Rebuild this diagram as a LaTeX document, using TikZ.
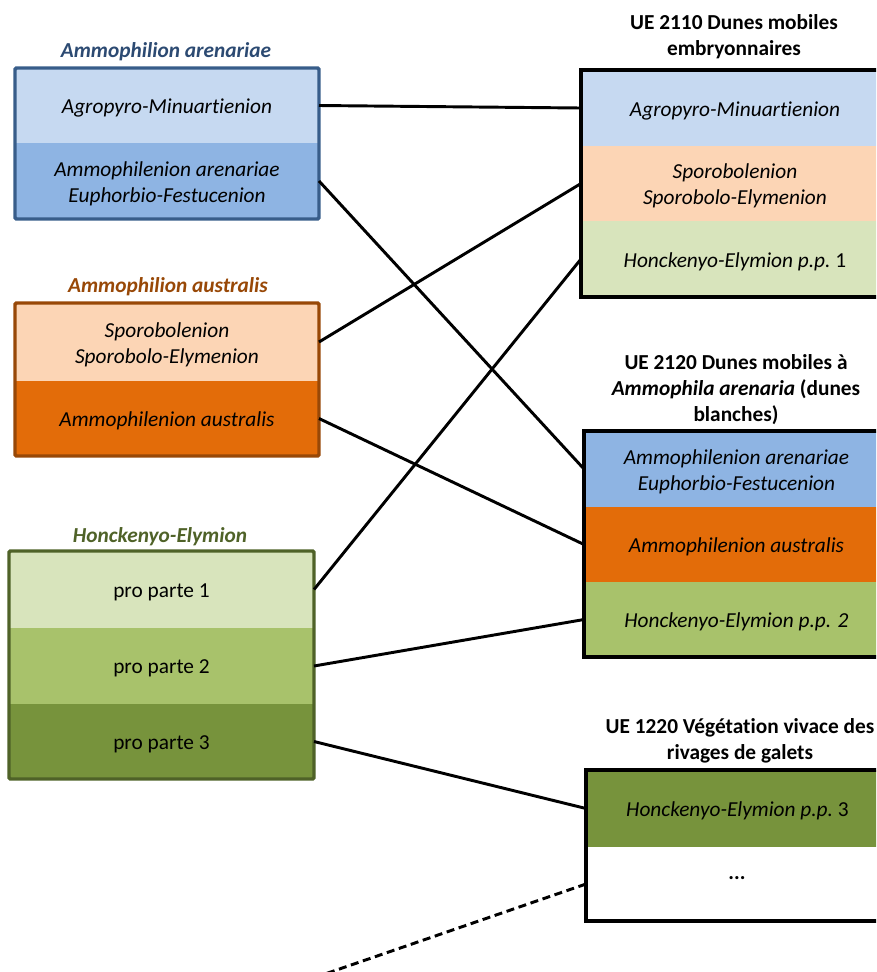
\documentclass[tikz,border=0pt]{standalone}
\usepackage{fontspec}
\setmainfont[Ligatures=NoCommon]{Carlito}
\definecolor{lblue}{HTML}{C6D9F1}
\definecolor{mblue}{HTML}{8EB4E3}
\definecolor{bblue}{HTML}{385D8A}
\definecolor{tblue}{HTML}{2C4A72}
\definecolor{peach}{HTML}{FCD5B5}
\definecolor{orng}{HTML}{E36C09}
\definecolor{brwn}{HTML}{984807}
\definecolor{lgreen}{HTML}{D8E4BC}
\definecolor{mgreen}{HTML}{A8C26B}
\definecolor{dgreen}{HTML}{77933C}
\definecolor{bgreen}{HTML}{4F6228}
\tikzset{
  band/.style={rectangle, inner sep=0pt, outer sep=0pt},
  btext/.style={inner sep=0pt, align=center, yshift=-2pt,
    font=\fontsize{16}{19.5}\selectfont},
  grptitle/.style={font=\fontsize{16}{19.5}\selectfont\bfseries\itshape, align=center},
  uetitle/.style={font=\fontsize{16}{19.5}\selectfont\bfseries, align=center},
  link/.style={line width=2.2pt, black},
}
\begin{document}
\begin{tikzpicture}[x=0.75pt,y=-0.75pt]
\useasboundingbox (0,0) rectangle (876,972);
\clip (0,0) rectangle (876,972);
% ---- left group 1
\node[grptitle, text=tblue] (t1) at (166,52) {Ammophilion arenariae};
\node[band, fill=lblue, minimum width=228pt, minimum height=56.25pt] (a1) at (167,105.5) {};
\node[band, fill=mblue, minimum width=228pt, minimum height=57pt] (a2) at (167,181) {};
\node[btext] (a1t) at (a1.center) {\itshape Agropyro-Minuartienion};
\node[btext] (a2t) at (a2.center) {\itshape Ammophilenion arenariae\\\itshape Euphorbio-Festucenion};
\draw[bblue, line width=2.6pt, rounded corners=1pt] (a1.north west) rectangle (a2.south east);
% ---- left group 2
\node[grptitle, text=brwn] (t2) at (168,287) {Ammophilion australis};
\node[band, fill=peach, minimum width=228pt, minimum height=58.5pt] (b1) at (167,342) {};
\node[band, fill=orng, minimum width=228pt, minimum height=56.25pt] (b2) at (167,418.5) {};
\node[btext] (b1t) at (b1.center) {\itshape Sporobolenion\\\itshape Sporobolo-Elymenion};
\node[btext] (b2t) at (b2.center) {\itshape Ammophilenion australis};
\draw[brwn, line width=2.6pt, rounded corners=1pt] (b1.north west) rectangle (b2.south east);
% ---- left group 3
\node[grptitle, text=bgreen] (t3) at (160,537) {Honckenyo-Elymion};
\node[band, fill=lgreen, minimum width=228.75pt, minimum height=57.75pt] (c1) at (161.5,589.5) {};
\node[band, fill=mgreen, minimum width=228.75pt, minimum height=57pt] (c2) at (161.5,666) {};
\node[band, fill=dgreen, minimum width=228.75pt, minimum height=56.25pt] (c3) at (161.5,741.5) {};
\node[btext] (c1t) at (c1.center) {pro parte 1};
\node[btext] (c2t) at (c2.center) {pro parte 2};
\node[btext] (c3t) at (c3.center) {pro parte 3};
\draw[bgreen, line width=2.6pt, rounded corners=1pt] (c1.north west) rectangle (c3.south east);
% ---- right group 1
\node[uetitle] (u1) at (734,37) {UE 2110 Dunes mobiles\\embryonnaires};
\node[band, fill=lblue, minimum width=231pt, minimum height=57pt] (r1) at (735,108) {};
\node[band, fill=peach, minimum width=231pt, minimum height=56.25pt] (r2) at (735,183.5) {};
\node[band, fill=lgreen, minimum width=231pt, minimum height=57pt] (r3) at (735,259) {};
\node[btext] (r1t) at (r1.center) {\itshape Agropyro-Minuartienion};
\node[btext] (r2t) at (r2.center) {\itshape Sporobolenion\\\itshape Sporobolo-Elymenion};
\node[btext] (r3t) at (r3.center) {\itshape Honckenyo-Elymion p.p.\upshape\ 1};
\draw[black, line width=3.2pt] (r1.north west) rectangle (r3.south east);
% ---- right group 2
\node[uetitle] (u2) at (736,390) {UE 2120 Dunes mobiles à\\\itshape Ammophila arenaria\upshape\ (dunes\\blanches)};
\node[band, fill=mblue, minimum width=228.75pt, minimum height=57pt] (s1) at (736.5,469) {};
\node[band, fill=orng, minimum width=228.75pt, minimum height=56.25pt] (s2) at (736.5,544.5) {};
\node[band, fill=mgreen, minimum width=228.75pt, minimum height=56.25pt] (s3) at (736.5,619.5) {};
\node[btext] (s1t) at (s1.center) {\itshape Ammophilenion arenariae\\\itshape Euphorbio-Festucenion};
\node[btext] (s2t) at (s2.center) {\itshape Ammophilenion australis};
\node[btext] (s3t) at (s3.center) {\itshape Honckenyo-Elymion p.p. 2};
\draw[black, line width=3.2pt] (s1.north west) rectangle (s3.south east);
% ---- right group 3
\node[uetitle] (u3) at (740,741) {UE 1220 Végétation vivace des\\rivages de galets};
\node[band, fill=dgreen, minimum width=227.25pt, minimum height=57.75pt] (q1) at (737.5,808.5) {};
\node[band, fill=white, minimum width=227.25pt, minimum height=55.5pt] (q2) at (737.5,884) {};
\node[btext] (q1t) at (q1.center) {\itshape Honckenyo-Elymion p.p.\upshape\ 3};
\node[btext] (q2t) at (737,875) {\bfseries ...};
\draw[black, line width=3.2pt] (q1.north west) rectangle (q2.south east);
% ---- connectors
\draw[link] (a1.east) -- (r1.west);
\draw[link] (a2.east) -- (s1.west);
\draw[link] (b1.east) -- (r2.west);
\draw[link] (b2.east) -- (s2.west);
\draw[link] (c1.east) -- (r3.west);
\draw[link] (c2.east) -- (s3.west);
\draw[link] (c3.east) -- (q1.west);
\coordinate (dend) at (322,975);
\draw[link, dash pattern=on 6pt off 3.5pt] (q2.west) -- (dend);
\end{tikzpicture}
\end{document}
